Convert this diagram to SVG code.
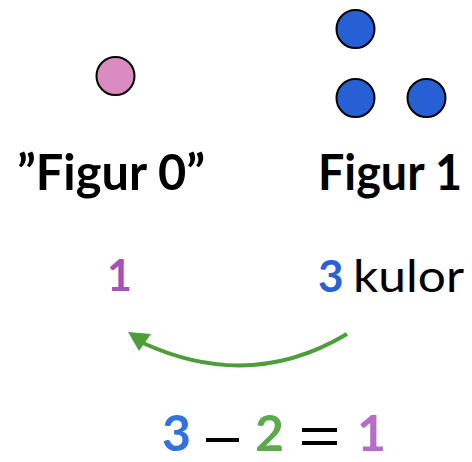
<svg xmlns="http://www.w3.org/2000/svg" width="472" height="462" viewBox="0 0 472 462">
<style>
.dot{stroke:#000;stroke-width:2}
.t{font-family:Lato,"Open Sans","Liberation Sans",sans-serif}
.b{font-weight:bold}
</style>
<rect width="472" height="462" fill="#fff"/>
<g id="figur0">
<circle class="dot" cx="115.5" cy="76" r="19" fill="#d98bc2"/>
<text class="t b" x="17" y="190" font-size="49" textLength="188" lengthAdjust="spacingAndGlyphs">”Figur 0”</text>
<text class="t b" x="107" y="291" font-size="43" fill="#a452b8">1</text>
</g>
<g id="figur1">
<circle class="dot" cx="355.5" cy="29" r="19" fill="#2660d4"/>
<circle class="dot" cx="355.5" cy="98" r="19" fill="#2660d4"/>
<circle class="dot" cx="426.5" cy="98" r="19" fill="#2660d4"/>
<text class="t b" x="318" y="190" font-size="49" textLength="144" lengthAdjust="spacingAndGlyphs">Figur 1</text>
<text class="t b" x="318" y="292" font-size="44" fill="#2a60d8">3</text>
<text class="t" x="353" y="292" font-size="44" textLength="111" lengthAdjust="spacingAndGlyphs">kulor</text>
</g>
<g id="connectors">
<path d="M347,334 Q250,392 143,343" fill="none" stroke="#4e9d3c" stroke-width="4"/>
<polygon points="128,332 151,334 139,351" fill="#4e9d3c"/>
</g>
<g id="equation">
<text class="t b" x="162" y="451" font-size="50" fill="#3072e0">3</text>
<rect x="206" y="438" width="33" height="4" fill="#000"/>
<text class="t b" x="255" y="451" font-size="50" fill="#5caa4c">2</text>
<rect x="302" y="428" width="35" height="4" fill="#000"/>
<rect x="302" y="441" width="35" height="4" fill="#000"/>
<text class="t b" x="357" y="451" font-size="50" fill="#b86cc8">1</text>
</g>
</svg>
